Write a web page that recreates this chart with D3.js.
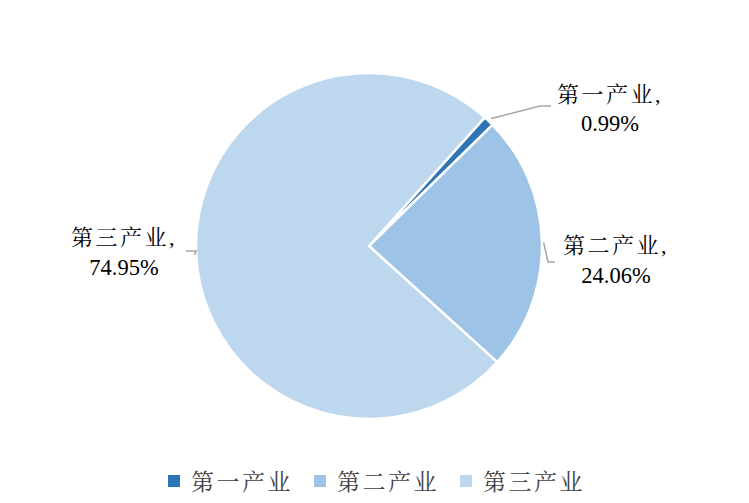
<!DOCTYPE html>
<html><head><meta charset="utf-8">
<script src="https://cdn.jsdelivr.net/npm/d3@7/dist/d3.min.js"></script>
<style>
body{margin:0;background:#fff;}
text{font-family:"Liberation Serif","Times New Roman","Noto Serif CJK SC","Noto Sans CJK SC",serif;}
.num{font-family:"Liberation Serif","DejaVu Serif",serif;}
</style></head>
<body><svg id="c" width="749" height="503"></svg>
<script>
const categories = ["第一产业","第二产业","第三产业"];
const values = [0.99, 24.06, 74.95];
const labels = ["0.99%","24.06%","74.95%"];
const colors = ["#2e75b6","#9dc3e6","#bdd7ee"];

const svg = d3.select("#c");
const cx = 369, cy = 246, r = 173;
const startDeg = 42;
const data = categories.map((c,i)=>({name:c, value:values[i], label:labels[i], color:colors[i]}));
const pie = d3.pie().value(d=>d.value).sort(null)
  .startAngle(startDeg*Math.PI/180).endAngle((startDeg+360)*Math.PI/180);
const arc = d3.arc().innerRadius(0).outerRadius(r);
const arcs = pie(data);
const g = svg.append("g").attr("transform",`translate(${cx},${cy})`);
g.selectAll("path").data(arcs).join("path")
  .attr("d",arc).attr("fill",d=>d.data.color)
  .attr("stroke","#fff").attr("stroke-width",2.5).attr("stroke-linejoin","round");

const labelPos = [
  {pts:[[1.02,0],[540,106],[551,106]], tx:610, ty:[102,131]},
  {pts:[[1.01,0],[548,262],[555,262]], tx:616, ty:[253,283]},
  {pts:[[1.01,0],[196,251],[186,251]], tx:124, ty:[245,275]}
];
arcs.forEach((a,i)=>{
  const lp = labelPos[i];
  const mid = (a.startAngle+a.endAngle)/2;
  const p0 = [cx + Math.sin(mid)*r*lp.pts[0][0], cy - Math.cos(mid)*r*lp.pts[0][0]];
  const pts = [p0, lp.pts[1], lp.pts[2]];
  svg.append("path").attr("d", d3.line()(pts))
    .attr("fill","none").attr("stroke","#a6a6a6").attr("stroke-width",1.5);
  const t = svg.append("text").attr("text-anchor","middle").attr("fill","#000").attr("font-size",22);
  t.append("tspan").attr("x",lp.tx).attr("y",lp.ty[0]).attr("letter-spacing",2.5).text(a.data.name+",");
  t.append("tspan").attr("class","num").attr("x",lp.tx).attr("y",lp.ty[1]).attr("font-size",22.5).text(a.data.label);
});

const legX = [168,314,460];
const lg = svg.append("g");
data.forEach((d,i)=>{
  lg.append("rect").attr("x",legX[i]).attr("y",475).attr("width",12).attr("height",12).attr("fill",d.color);
  lg.append("text").attr("x",legX[i]+23).attr("y",490).attr("font-size",23).attr("letter-spacing",2.5)
    .attr("fill","#404040").text(d.name);
});
</script></body></html>
